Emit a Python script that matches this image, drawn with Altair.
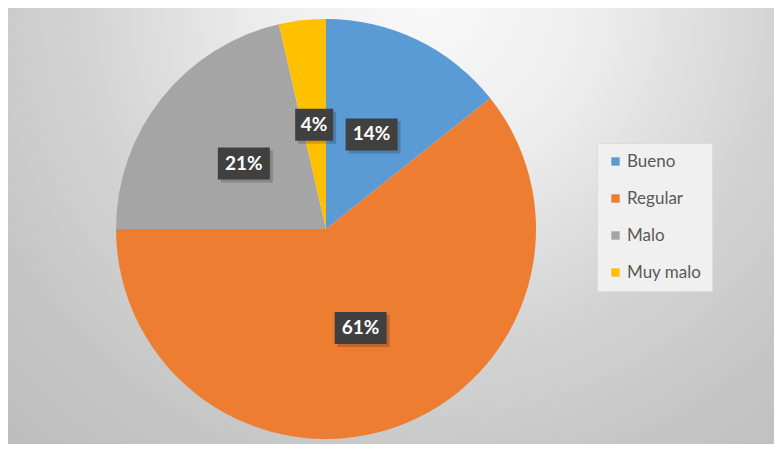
import altair as alt
import pandas as pd

categories = ["Bueno", "Regular", "Malo", "Muy malo"]
values = [14.3, 60.7, 21.4, 3.6]
labels = ["14%", "61%", "21%", "4%"]
colors = ["#5B9BD5", "#ED7D31", "#A5A5A5", "#FFC000"]

df = pd.DataFrame({"cat": categories, "value": values, "label": labels,
                   "ord": list(range(len(categories)))})

W, H = 766, 436
CX, CY, R, RL = 318, 221, 210, 105

# background radial gradient
bg = alt.Chart(pd.DataFrame({"a": [0]})).mark_rect(
    clip=True,
    color=alt.Gradient(
        gradient="radial", x1=0.5, y1=0.5, x2=0.5, y2=0.5, r1=0, r2=0.5,
        stops=[alt.GradientStop(color="#ffffff", offset=0),
               alt.GradientStop(color="#f3f3f3", offset=0.28),
               alt.GradientStop(color="#d9d9d9", offset=0.58),
               alt.GradientStop(color="#cbcbcb", offset=0.8),
               alt.GradientStop(color="#c3c3c3", offset=1)])
).encode(x=alt.value(-178), x2=alt.value(1022), y=alt.value(-608), y2=alt.value(592))

# soft shadow around pie
shadow = alt.Chart(pd.DataFrame({"r": [211, 213, 215, 217, 219, 221]})).mark_arc(
    theta=0, theta2=6.2832, color="black", opacity=0.025
).encode(x=alt.value(CX - 1), y=alt.value(CY + 2),
         radius=alt.Radius("r:Q", scale=None))

base = alt.Chart(df)

pie = base.mark_arc(outerRadius=R).encode(
    x=alt.value(CX), y=alt.value(CY),
    theta=alt.Theta("value:Q", stack=True),
    order=alt.Order("ord:Q"),
    color=alt.Color("cat:N", sort=categories,
                    scale=alt.Scale(domain=categories, range=colors),
                    legend=alt.Legend(orient="none", legendX=589, legendY=135,
                                      title=None, fillColor="#f0f0f0",
                                      strokeColor="#dcdcdc", padding=10,
                                      symbolType="square", symbolSize=70,
                                      symbolStrokeWidth=0, labelFont="Lato",
                                      labelFontSize=17, labelColor="#595959",
                                      rowPadding=19, labelOffset=3)),
)

pos = base.transform_joinaggregate(total="sum(value)").transform_window(
    cum="sum(value)", sort=[alt.SortField("ord")], frame=[None, 0]
).transform_calculate(
    mid="(datum.cum - datum.value/2)/datum.total*2*PI",
    px=f"{CX} + {RL}*sin(datum.mid)",
    py=f"{CY} - {RL}*cos(datum.mid)",
    hw="length(datum.label)*7+5",
    x1="datum.px - datum.hw", x2="datum.px + datum.hw",
    y1="datum.py - 16", y2="datum.py + 16",
    sx1="datum.x1 + 3", sx2="datum.x2 + 3", sy1="datum.y1 + 3", sy2="datum.y2 + 3",
)

box_shadow = pos.mark_rect(color="black", opacity=0.18).encode(
    x=alt.X("sx1:Q", scale=None, axis=None), x2="sx2:Q",
    y=alt.Y("sy1:Q", scale=None, axis=None), y2="sy2:Q")

box = pos.mark_rect(color="#404040").encode(
    x=alt.X("x1:Q", scale=None, axis=None), x2="x2:Q",
    y=alt.Y("y1:Q", scale=None, axis=None), y2="y2:Q")

txt = pos.mark_text(font="Lato", fontWeight="bold", fontSize=19, color="white",
                    align="center", baseline="middle").encode(
    x=alt.X("px:Q", scale=None, axis=None),
    y=alt.Y("py:Q", scale=None, axis=None),
    text="label:N")

chart = alt.layer(bg, shadow, pie, box_shadow, box, txt).properties(
    width=W, height=H, padding=0,
    autosize=alt.AutoSizeParams(type="none")
).configure_view(stroke=None)

chart.save("out.html", embed_options={"renderer": "svg", "actions": False})
